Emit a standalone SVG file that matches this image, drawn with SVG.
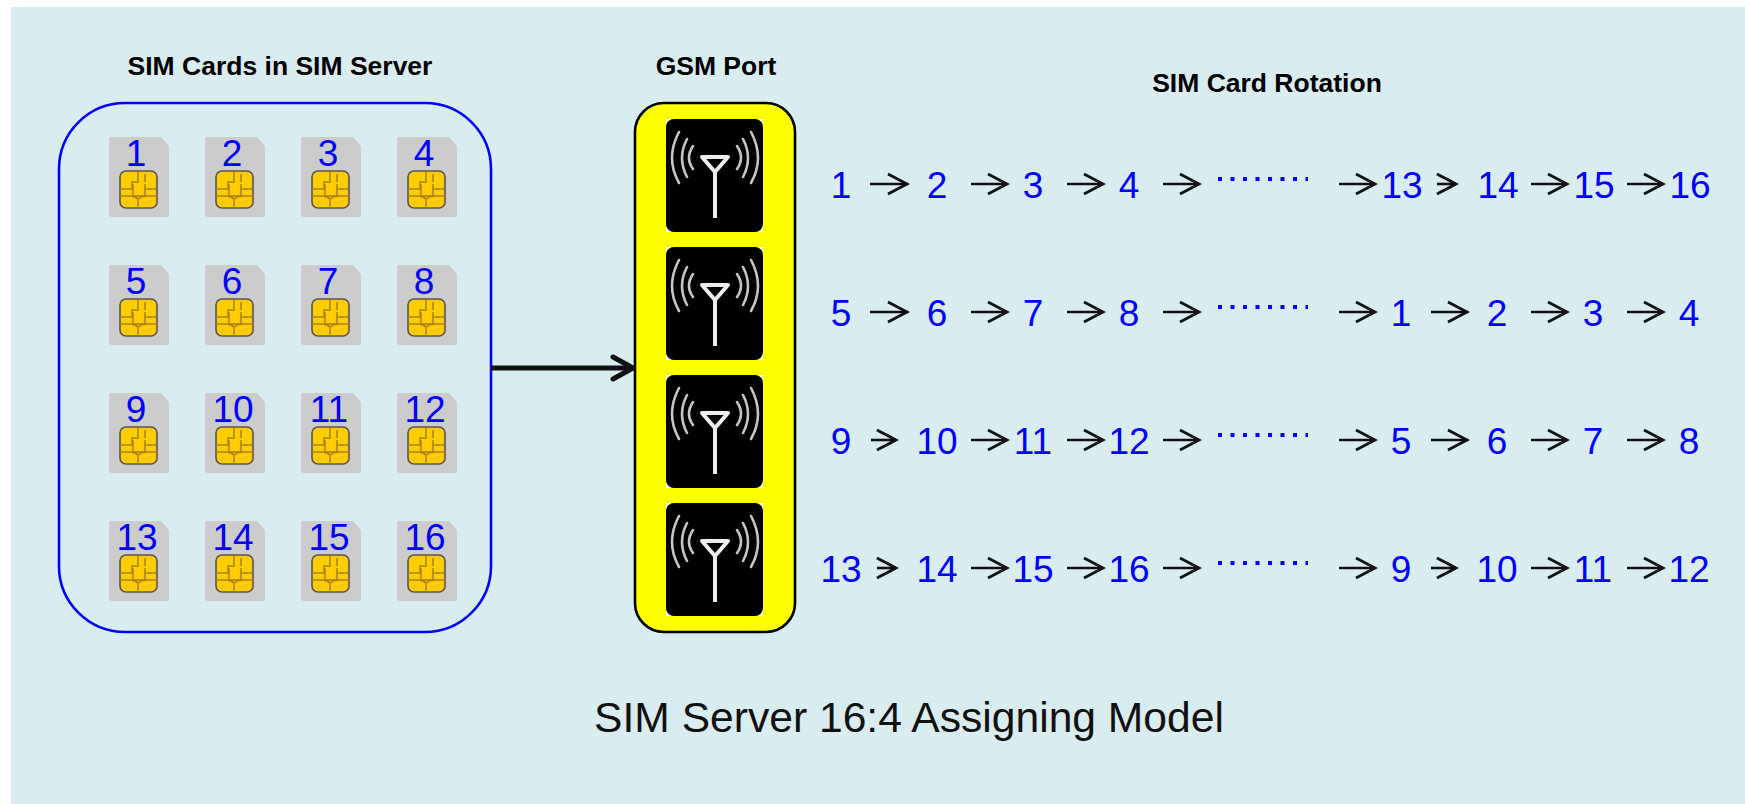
<svg xmlns="http://www.w3.org/2000/svg" xmlns:xlink="http://www.w3.org/1999/xlink" width="1745" height="804" viewBox="0 0 1745 804">
<style>
text{font-family:"Liberation Sans",Arial,sans-serif;text-anchor:middle}
.n{font-size:37px;fill:#0000ff}
.t{font-size:26.5px;font-weight:bold;fill:#000}
.a{stroke:#111;stroke-width:2.6;fill:none;marker-end:url(#h)}
.d{stroke:#0000ff;stroke-width:4;stroke-dasharray:4 8.5;fill:none}
</style>
<defs>
<marker id="h" markerUnits="userSpaceOnUse" viewBox="-22 -13 26 26" markerWidth="26" markerHeight="26" refX="0" refY="0" orient="auto"><path d="M-19,-10 L0,0 L-19,10" fill="none" stroke="#111" stroke-width="2.8"/></marker>
<marker id="H" markerUnits="userSpaceOnUse" viewBox="-26 -15 32 30" markerWidth="32" markerHeight="30" refX="0" refY="0" orient="auto"><path d="M-21,-11 L-1,0 L-21,11" fill="none" stroke="#111" stroke-width="5" stroke-linecap="round" stroke-linejoin="round"/></marker>
<g id="card">
<path d="M1,0 H52 L60,9 V78 L59,80 H2 L0,78 V1 Z" fill="#cccccc"/>
<g transform="translate(11,34)">
<rect x="0" y="0" width="37" height="37" rx="6" fill="#ffcc00" stroke="#555" stroke-width="1.6"/>
<path d="M0,18 H12 V11 H18 V0 M13,13 V23 Q13,25 15,25 H23 Q25,25 25,23 V13 M25,18 H37 M25,11 V3 M0,25 H10 Q15,25 18,28 V37 M37,25 H26 Q22,25 18,28" fill="none" stroke="#a8820c" stroke-width="1.5"/>
</g>
</g>
<g id="ant">
<rect width="97" height="113" fill="#fff"/>
<rect width="97" height="113" rx="8" fill="#000"/>
<path d="M13,13 Q-1,39 13,64 M21,20 Q11,39 21,58 M27,27 Q19,39 27,50 M85,13 Q99,39 85,64 M77,20 Q87,39 77,58 M71,27 Q79,39 71,50" fill="none" stroke="#c4c4c4" stroke-width="2.6" stroke-linecap="round"/>
<path d="M36,38 H62 L49,53 Z M49,53 V99" fill="none" stroke="#eeeeee" stroke-width="4" stroke-linejoin="round"/>
</g>
</defs>
<rect x="11" y="7" width="1734" height="797" fill="#d9ecef"/>
<g id="titles">
<text class="t" x="280" y="75">SIM Cards in SIM Server</text>
<text class="t" x="716" y="75">GSM Port</text>
<text class="t" x="1267" y="92">SIM Card Rotation</text>
<text x="909" y="732" font-size="42.6" fill="#111">SIM Server 16:4 Assigning Model</text>
</g>
<g id="sim-server"><rect x="59" y="103" width="432" height="529" rx="66" fill="none" stroke="#0000ff" stroke-width="2.6"/></g>
<g id="gsm-port">
<rect x="635" y="103" width="160" height="529" rx="29" fill="#ffff00" stroke="#000" stroke-width="2.6"/>
<use href="#ant" x="666" y="119"/><use href="#ant" x="666" y="247"/><use href="#ant" x="666" y="375"/><use href="#ant" x="666" y="503"/>
</g>
<g id="sim-1"><use href="#card" x="109" y="137"/><text class="n" x="136" y="166">1</text></g>
<g id="sim-2"><use href="#card" x="205" y="137"/><text class="n" x="232" y="166">2</text></g>
<g id="sim-3"><use href="#card" x="301" y="137"/><text class="n" x="328" y="166">3</text></g>
<g id="sim-4"><use href="#card" x="397" y="137"/><text class="n" x="424" y="166">4</text></g>
<g id="sim-5"><use href="#card" x="109" y="265"/><text class="n" x="136" y="294">5</text></g>
<g id="sim-6"><use href="#card" x="205" y="265"/><text class="n" x="232" y="294">6</text></g>
<g id="sim-7"><use href="#card" x="301" y="265"/><text class="n" x="328" y="294">7</text></g>
<g id="sim-8"><use href="#card" x="397" y="265"/><text class="n" x="424" y="294">8</text></g>
<g id="sim-9"><use href="#card" x="109" y="393"/><text class="n" x="136" y="422">9</text></g>
<g id="sim-10"><use href="#card" x="205" y="393"/><text class="n" x="233" y="422">10</text></g>
<g id="sim-11"><use href="#card" x="301" y="393"/><text class="n" x="329" y="422">11</text></g>
<g id="sim-12"><use href="#card" x="397" y="393"/><text class="n" x="425" y="422">12</text></g>
<g id="sim-13"><use href="#card" x="109" y="521"/><text class="n" x="137" y="550">13</text></g>
<g id="sim-14"><use href="#card" x="205" y="521"/><text class="n" x="233" y="550">14</text></g>
<g id="sim-15"><use href="#card" x="301" y="521"/><text class="n" x="329" y="550">15</text></g>
<g id="sim-16"><use href="#card" x="397" y="521"/><text class="n" x="425" y="550">16</text></g>
<g id="rotation-labels">
<text class="n" x="841" y="198">1</text><text class="n" x="937" y="198">2</text><text class="n" x="1033" y="198">3</text><text class="n" x="1129" y="198">4</text>
<text class="n" x="1402" y="198">13</text><text class="n" x="1498" y="198">14</text><text class="n" x="1594" y="198">15</text><text class="n" x="1690" y="198">16</text>
<text class="n" x="841" y="326">5</text><text class="n" x="937" y="326">6</text><text class="n" x="1033" y="326">7</text><text class="n" x="1129" y="326">8</text>
<text class="n" x="1401" y="326">1</text><text class="n" x="1497" y="326">2</text><text class="n" x="1593" y="326">3</text><text class="n" x="1689" y="326">4</text>
<text class="n" x="841" y="454">9</text><text class="n" x="937" y="454">10</text><text class="n" x="1033" y="454">11</text><text class="n" x="1129" y="454">12</text>
<text class="n" x="1401" y="454">5</text><text class="n" x="1497" y="454">6</text><text class="n" x="1593" y="454">7</text><text class="n" x="1689" y="454">8</text>
<text class="n" x="841" y="582">13</text><text class="n" x="937" y="582">14</text><text class="n" x="1033" y="582">15</text><text class="n" x="1129" y="582">16</text>
<text class="n" x="1401" y="582">9</text><text class="n" x="1497" y="582">10</text><text class="n" x="1593" y="582">11</text><text class="n" x="1689" y="582">12</text>
</g>
<g id="connectors">
<line x1="491" y1="368" x2="634" y2="368" stroke="#111" stroke-width="5" marker-end="url(#H)"/>
<line class="a" x1="870" y1="184" x2="907" y2="184"/><line class="a" x1="971" y1="184" x2="1007" y2="184"/><line class="a" x1="1067" y1="184" x2="1103" y2="184"/><line class="a" x1="1163" y1="184" x2="1199" y2="184"/>
<line class="a" x1="1339" y1="184" x2="1375" y2="184"/><line class="a" x1="1437" y1="184" x2="1456" y2="184"/><line class="a" x1="1531" y1="184" x2="1567" y2="184"/><line class="a" x1="1627" y1="184" x2="1663" y2="184"/>
<line class="a" x1="870" y1="312" x2="907" y2="312"/><line class="a" x1="971" y1="312" x2="1007" y2="312"/><line class="a" x1="1067" y1="312" x2="1103" y2="312"/><line class="a" x1="1163" y1="312" x2="1199" y2="312"/>
<line class="a" x1="1339" y1="312" x2="1375" y2="312"/><line class="a" x1="1431" y1="312" x2="1467" y2="312"/><line class="a" x1="1531" y1="312" x2="1567" y2="312"/><line class="a" x1="1627" y1="312" x2="1663" y2="312"/>
<line class="a" x1="871" y1="440" x2="896" y2="440"/><line class="a" x1="971" y1="440" x2="1007" y2="440"/><line class="a" x1="1067" y1="440" x2="1103" y2="440"/><line class="a" x1="1163" y1="440" x2="1199" y2="440"/>
<line class="a" x1="1339" y1="440" x2="1375" y2="440"/><line class="a" x1="1431" y1="440" x2="1467" y2="440"/><line class="a" x1="1531" y1="440" x2="1567" y2="440"/><line class="a" x1="1627" y1="440" x2="1663" y2="440"/>
<line class="a" x1="877" y1="568" x2="896" y2="568"/><line class="a" x1="971" y1="568" x2="1007" y2="568"/><line class="a" x1="1067" y1="568" x2="1103" y2="568"/><line class="a" x1="1163" y1="568" x2="1199" y2="568"/>
<line class="a" x1="1339" y1="568" x2="1375" y2="568"/><line class="a" x1="1431" y1="568" x2="1456" y2="568"/><line class="a" x1="1531" y1="568" x2="1567" y2="568"/><line class="a" x1="1627" y1="568" x2="1663" y2="568"/>
<line class="d" x1="1218" y1="179" x2="1308" y2="179"/><line class="d" x1="1218" y1="307" x2="1308" y2="307"/><line class="d" x1="1218" y1="435" x2="1308" y2="435"/><line class="d" x1="1218" y1="563" x2="1308" y2="563"/>
</g>
</svg>
